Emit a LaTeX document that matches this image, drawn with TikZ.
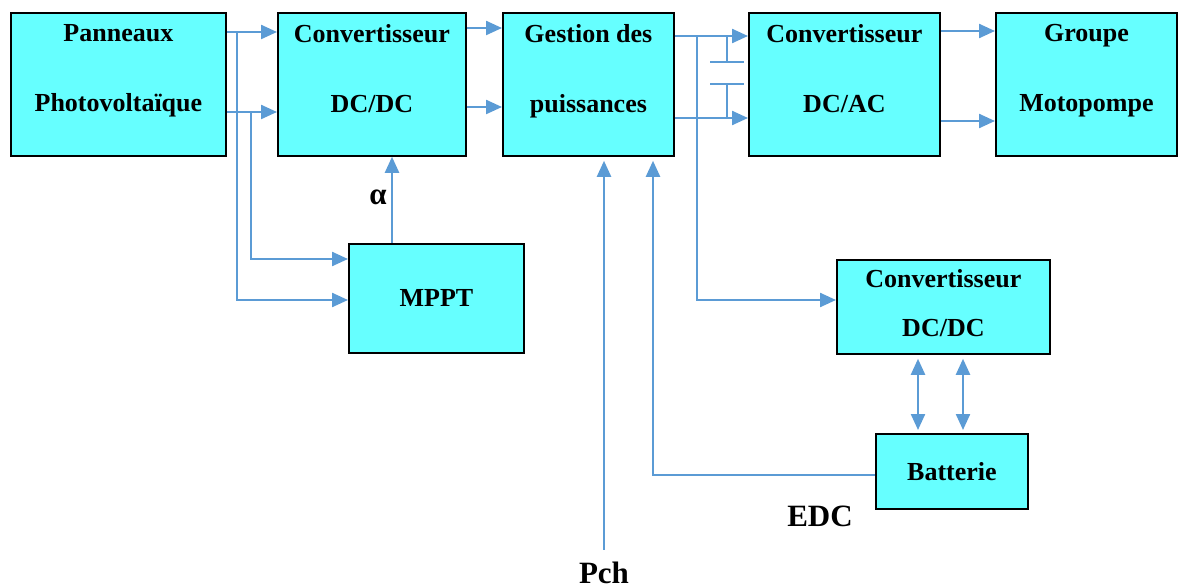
\documentclass[tikz,border=0pt]{standalone}
\usepackage{fontspec}
\setmainfont{Liberation Serif}
\usepackage{tikz}
\usetikzlibrary{arrows.meta}

\definecolor{boxcyan}{RGB}{102,255,255}
\definecolor{linkblue}{RGB}{91,155,213}

\tikzset{
  blok/.style={draw=black, line width=1.8pt, fill=boxcyan, anchor=north west,
    inner sep=0pt, font=\fontsize{26}{30}\selectfont\bfseries},
  lbl/.style={font=\fontsize{26}{70}\selectfont\bfseries, align=center, inner sep=0pt},
  grand/.style={font=\fontsize{31}{36}\selectfont\bfseries, inner sep=0pt},
  fil/.style={draw=linkblue, line width=2.3pt},
  fleche/.style={fil, -{Triangle[length=16pt,width=14pt]}},
  dfleche/.style={fil, {Triangle[length=16pt,width=14pt]}-{Triangle[length=16pt,width=14pt]}},
}

\begin{document}
\begin{tikzpicture}[x=1pt, y=-1pt]
  \useasboundingbox (0,0) rectangle (1178,588);

  % blocs
  \node[blok, minimum width=215pt, minimum height=143pt] (pv) at (10,12) {};
  \node[blok, minimum width=188pt, minimum height=143pt] (cdc) at (277,12) {};
  \node[blok, minimum width=171pt, minimum height=143pt] (gest) at (502,12) {};
  \node[blok, minimum width=191pt, minimum height=143pt] (dcac) at (748,12) {};
  \node[blok, minimum width=181pt, minimum height=143pt] (mp) at (995,12) {};
  \node[blok, minimum width=175pt, minimum height=109pt] (mppt) at (348,243) {MPPT};
  \node[blok, minimum width=213pt, minimum height=94pt] (cdc2) at (836,259) {};
  \node[blok, minimum width=152pt, minimum height=75pt] (bat) at (875,433) {Batterie};

  % textes des blocs
  \node[lbl, anchor=north] (pvtxt) at ([yshift=-12pt]pv.north) {Panneaux\\Photovoltaïque};
  \node[lbl, anchor=north] (cdctxt) at ([yshift=-12pt]cdc.north) {Convertisseur\\DC/DC};
  \node[lbl, anchor=north] (gesttxt) at ([yshift=-12pt]gest.north) {Gestion des\\puissances};
  \node[lbl, anchor=north] (dcactxt) at ([yshift=-12pt]dcac.north) {Convertisseur\\DC/AC};
  \node[lbl, anchor=north] (mptxt) at ([yshift=-12pt]mp.north) {Groupe\\Motopompe};
  \node[lbl, anchor=north, font=\fontsize{26}{49}\selectfont\bfseries] (cdc2txt)
    at ([yshift=-10pt]cdc2.north) {Convertisseur\\DC/DC};

  % panneaux vers convertisseur et MPPT
  \draw[fleche] ([yshift=-20pt]pv.north east) -- ([yshift=-20pt]cdc.north west);
  \draw[fleche] ([yshift=-100pt]pv.north east) -- ([yshift=-100pt]cdc.north west);
  \draw[fleche] ([shift={(10pt,-20pt)}]pv.north east) |- ([yshift=-57pt]mppt.north west);
  \draw[fleche] ([shift={(24pt,-100pt)}]pv.north east) |- ([yshift=-16pt]mppt.north west);

  % MPPT vers convertisseur
  \coordinate (alphpied) at ([xshift=44pt]mppt.north west);
  \draw[fleche] (alphpied) -- (alphpied |- cdc.south);
  \node[grand] (alph) at (378,197) {α};

  % convertisseur vers gestion
  \draw[fleche] ([yshift=-16pt]cdc.north east) -- ([yshift=-16pt]gest.north west);
  \draw[fleche] ([yshift=-95pt]cdc.north east) -- ([yshift=-95pt]gest.north west);

  % gestion vers onduleur et convertisseur batterie
  \draw[fleche] ([yshift=-24pt]gest.north east) -- ([yshift=-24pt]dcac.north west);
  \draw[fleche] ([yshift=-106pt]gest.north east) -- ([yshift=-106pt]dcac.north west);
  \draw[fleche] ([shift={(22pt,-24pt)}]gest.north east) |- ([yshift=-41pt]cdc2.north west);
  % condensateur
  \draw[fil] (727,36) -- (727,62) (710,62) -- (744,62)
             (710,84) -- (744,84) (727,84) -- (727,118);

  % onduleur vers motopompe
  \draw[fleche] ([yshift=-19pt]dcac.north east) -- ([yshift=-19pt]mp.north west);
  \draw[fleche] ([yshift=-109pt]dcac.north east) -- ([yshift=-109pt]mp.north west);

  % batterie
  \coordinate (b1) at ([xshift=43pt]bat.north west);
  \coordinate (b2) at ([xshift=88pt]bat.north west);
  \draw[dfleche, shorten <=3pt, shorten >=4pt] (b1) -- (b1 |- cdc2.south);
  \draw[dfleche, shorten <=3pt, shorten >=4pt] (b2) -- (b2 |- cdc2.south);
  \coordinate (edcpt) at ([yshift=-42pt]bat.north west);
  \coordinate (retour) at ([xshift=151pt]gest.south west);
  \draw[fleche, shorten >=4pt] (edcpt) -| (retour);
  \node[grand] (edc) at (820,516) {EDC};

  % consigne de charge
  \node[grand] (pch) at (604,573) {Pch};
  \draw[fleche, shorten <=12pt, shorten >=4pt] (pch.north) -- (pch.north |- gest.south);
\end{tikzpicture}
\end{document}
